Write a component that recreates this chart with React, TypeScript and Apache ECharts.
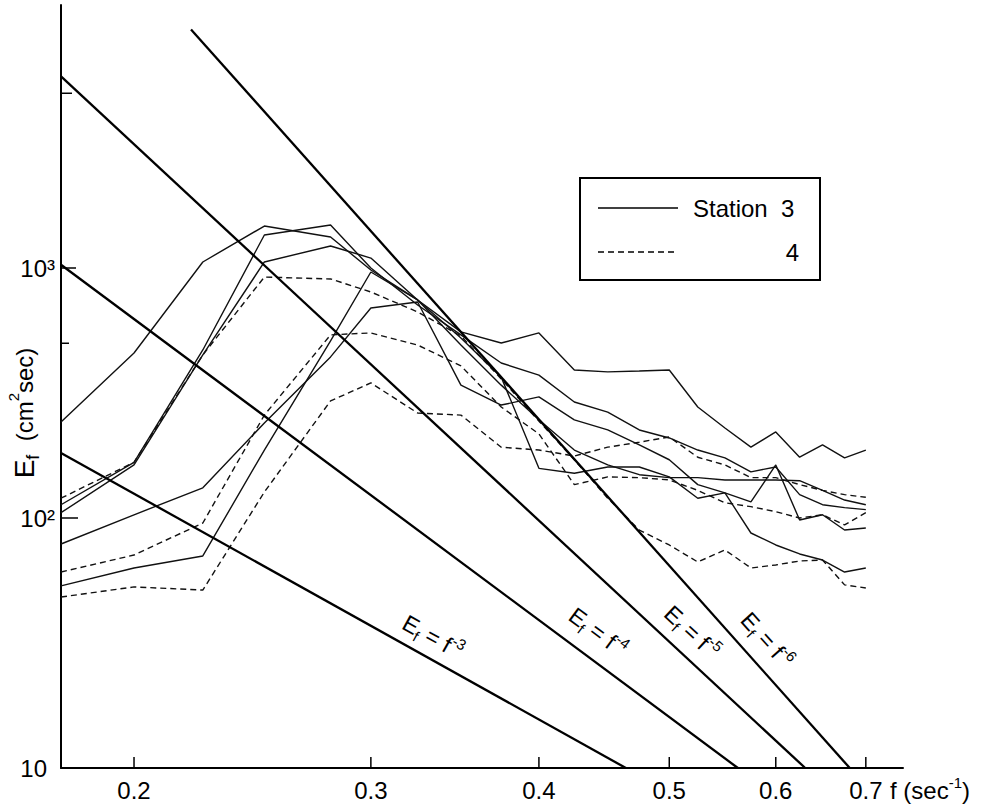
import React, { useEffect, useRef } from "react";
import * as echarts from "echarts";

// Frequencies (sec^-1) of the spectral estimates
const FREQ = [0.1765, 0.2, 0.225, 0.25, 0.28, 0.3, 0.325, 0.35, 0.375, 0.4, 0.425, 0.45, 0.475, 0.5, 0.525, 0.55, 0.575, 0.6, 0.625, 0.65, 0.675, 0.7];

// Station 3 spectra (solid), E_f in cm^2 sec
const ST3_A = [242, 457, 1057, 1472, 1330, 982, 745, 555, 501, 550, 391, 384, 387, 391, 278, 229, 192, 221, 175, 196, 174, 187];
const ST3_B = [113, 167, 470, 1355, 1486, 1000, 711, 540, 417, 373, 291, 265, 225, 209, 187, 174, 153, 160, 124, 113, 110, 108];
const ST3_C = [105, 163, 449, 1057, 1225, 1096, 745, 492, 340, 247, 187, 163, 149, 145, 145, 142, 142, 142, 141, 129, 118, 113];
const ST3_D = [78.7, 103, 132, 240, 441, 692, 731, 340, 283, 305, 247, 225, 196, 171, 136, 126, 116, 163, 98.2, 103, 89.5, 91.2];
const ST3_E = [53.5, 63.1, 70.5, 187, 511, 964, 745, 525, 366, 158, 151, 160, 160, 146, 120, 126, 87.1, 78, 71.8, 67.9, 60.8, 63.1];

// Station 4 spectra (dashed)
const ST4_A = [120, 167, 449, 920, 904, 802, 667, 535, 360, 244, 171, 120, 89.5, 78, 66.7, 74.5, 63.1, 64.9, 67.3, 67.9, 54, 52.5];
const ST4_B = [60.8, 71.1, 95.5, 258, 540, 550, 492, 406, 278, 217, 136, 146, 145, 142, 129, 115, 111, 106, 100, 103, 93.8, 105];
const ST4_C = [48.3, 53, 51.5, 127, 294, 347, 263, 258, 192, 187, 177, 192, 201, 211, 175, 163, 145, 145, 136, 129, 124, 121];

// Reference power laws E_f = f^-n : [start, end] points
const LAW_M3 = [[0.1765, 182], [0.4642, 10]];
const LAW_M4 = [[0.1765, 1030], [0.5623, 10]];
const LAW_M5 = [[0.1765, 5840], [0.631, 10]];
const LAW_M6 = [[0.2205, 9000], [0.681, 10]];
const LAW_EXP = ["-3", "-4", "-5", "-6"];

// Axis ticks
const X_TICKS = [0.2, 0.3, 0.4, 0.5, 0.6, 0.7];
const X_TICK_LABELS = ["0.2", "0.3", "0.4", "0.5", "0.6", "0.7"];
const Y_TICKS = [100, 500, 1000, 5000];
const Y_LABEL_VALUES = [10, 100, 1000];
const Y_TICK_LABELS = ["10", "10²", "10³"];

const FONT = "'Liberation Sans', Arial, sans-serif";

export default function App() {
  const ref = useRef<HTMLDivElement>(null);
  useEffect(() => {
    if (!ref.current) return;
    const chart = echarts.init(ref.current, null, { renderer: "svg" });
    const toPts = (vals: number[]) => FREQ.map((f, i) => [f, vals[i]]);
    const dataSeries = (name: string, vals: number[], dashed: boolean) => ({
      type: "line",
      name,
      data: toPts(vals),
      symbol: "none",
      silent: true,
      lineStyle: { color: "#111", width: 1.4, type: dashed ? [6, 4] : "solid" },
    });
    const lawSeries = (pts: number[][]) => ({
      type: "line",
      data: pts,
      symbol: "none",
      silent: true,
      lineStyle: { color: "#000", width: 2.3 },
    });
    chart.setOption({
      animation: false,
      backgroundColor: "#fff",
      grid: { left: 61, top: 5, width: 842, height: 763 },
      xAxis: {
        type: "log",
        logBase: 10,
        min: 0.1765,
        max: 0.746,
        axisLine: { show: true, onZero: false, lineStyle: { color: "#000", width: 2 } },
        axisTick: { show: false },
        axisLabel: { show: false },
        splitLine: { show: false },
      },
      yAxis: {
        type: "log",
        logBase: 10,
        min: 10,
        max: 11272,
        axisLine: { show: true, onZero: false, lineStyle: { color: "#000", width: 2 } },
        axisTick: { show: false },
        axisLabel: { show: false },
        splitLine: { show: false },
      },
      series: [
        dataSeries("Station 3", ST3_A, false),
        dataSeries("Station 3", ST3_B, false),
        dataSeries("Station 3", ST3_C, false),
        dataSeries("Station 3", ST3_D, false),
        dataSeries("Station 3", ST3_E, false),
        dataSeries("Station 4", ST4_A, true),
        dataSeries("Station 4", ST4_B, true),
        dataSeries("Station 4", ST4_C, true),
        lawSeries(LAW_M3),
        lawSeries(LAW_M4),
        lawSeries(LAW_M5),
        lawSeries(LAW_M6),
      ],
    });

    const px = (f: number, e: number) =>
      chart.convertToPixel({ xAxisIndex: 0, yAxisIndex: 0 } as any, [f, e]) as number[];
    const [, yBottom] = px(0.2, 10);
    const [xLeft] = px(0.1765, 10);
    const g: any[] = [];
    X_TICKS.forEach((f, i) => {
      const [x] = px(f, 10);
      g.push({ type: "line", shape: { x1: x, y1: yBottom, x2: x, y2: yBottom - 11 }, style: { stroke: "#000", lineWidth: 1.5 } });
      g.push({ type: "text", x, y: yBottom + 22, style: { text: X_TICK_LABELS[i], font: `24px ${FONT}`, fill: "#000", align: "center", verticalAlign: "middle" } });
    });
    const yTickLen = [17, 8, 15, 11];
    Y_TICKS.forEach((v, i) => {
      const [, y] = px(0.2, v);
      g.push({ type: "line", shape: { x1: xLeft, y1: y, x2: xLeft + yTickLen[i], y2: y }, style: { stroke: "#000", lineWidth: 1.5 } });
    });
    const yLabelRight = [47, 55, 55];
    Y_LABEL_VALUES.forEach((v, i) => {
      const [, y] = px(0.2, v);
      g.push({ type: "text", x: yLabelRight[i], y, style: { text: Y_TICK_LABELS[i], font: `24px ${FONT}`, fill: "#000", align: "right", verticalAlign: "middle" } });
    });
    // x axis title
    g.push({
      type: "text", x: 890, y: yBottom + 22,
      style: {
        text: "{a|f (sec}{s|-1}{a|)}",
        align: "left", verticalAlign: "middle",
        rich: {
          a: { font: `24px ${FONT}`, fill: "#000", lineHeight: 30 },
          s: { font: `15px ${FONT}`, fill: "#000", lineHeight: 16, verticalAlign: "top" },
        },
      },
    });
    // y axis title
    g.push({
      type: "text", x: 24, y: 413, rotation: Math.PI / 2,
      style: {
        text: "{a|E}{s|f}{b|  (cm}{p|2}{b|sec)}",
        align: "center", verticalAlign: "middle",
        rich: {
          a: { font: `28px ${FONT}`, fill: "#000", lineHeight: 36 },
          s: { font: `18px ${FONT}`, fill: "#000", lineHeight: 18, verticalAlign: "bottom" },
          b: { font: `24px ${FONT}`, fill: "#000", lineHeight: 36 },
          p: { font: `15px ${FONT}`, fill: "#000", lineHeight: 16, verticalAlign: "top" },
        },
      },
    });
    // power law labels
    const lawLabelPos = [
      [433, 637, 29.1],
      [598, 632, 36.6],
      [692, 632, 42.9],
      [767, 640, 48.1],
    ];
    lawLabelPos.forEach(([x, y, deg], i) => {
      g.push({
        type: "text", x, y, rotation: (-deg * Math.PI) / 180,
        style: {
          text: `{a|E}{s|f}{a| = f}{p|${LAW_EXP[i]}}`,
          align: "center", verticalAlign: "middle",
          rich: {
            a: { font: `23px ${FONT}`, fill: "#000", lineHeight: 30 },
            s: { font: `15px ${FONT}`, fill: "#000", lineHeight: 16, verticalAlign: "bottom" },
            p: { font: `15px ${FONT}`, fill: "#000", lineHeight: 16, verticalAlign: "top" },
          },
        },
      });
    });
    // legend box
    g.push({ type: "rect", shape: { x: 580, y: 178, width: 240, height: 102 }, style: { fill: "#fff", stroke: "#000", lineWidth: 2 } });
    g.push({ type: "line", shape: { x1: 598, y1: 208, x2: 678, y2: 208 }, style: { stroke: "#000", lineWidth: 1.4 } });
    g.push({ type: "line", shape: { x1: 598, y1: 252, x2: 678, y2: 252 }, style: { stroke: "#000", lineWidth: 1.4, lineDash: [6, 4] } });
    g.push({ type: "text", x: 693, y: 208, style: { text: "Station  3", font: `24px ${FONT}`, fill: "#000", align: "left", verticalAlign: "middle" } });
    g.push({ type: "text", x: 799, y: 252, style: { text: "4", font: `24px ${FONT}`, fill: "#000", align: "right", verticalAlign: "middle" } });

    chart.setOption({ graphic: g });
    return () => chart.dispose();
  }, []);
  return <div ref={ref} style={{ position: "absolute", left: 0, top: 0, width: 983, height: 812, background: "#fff" }} />;
}
